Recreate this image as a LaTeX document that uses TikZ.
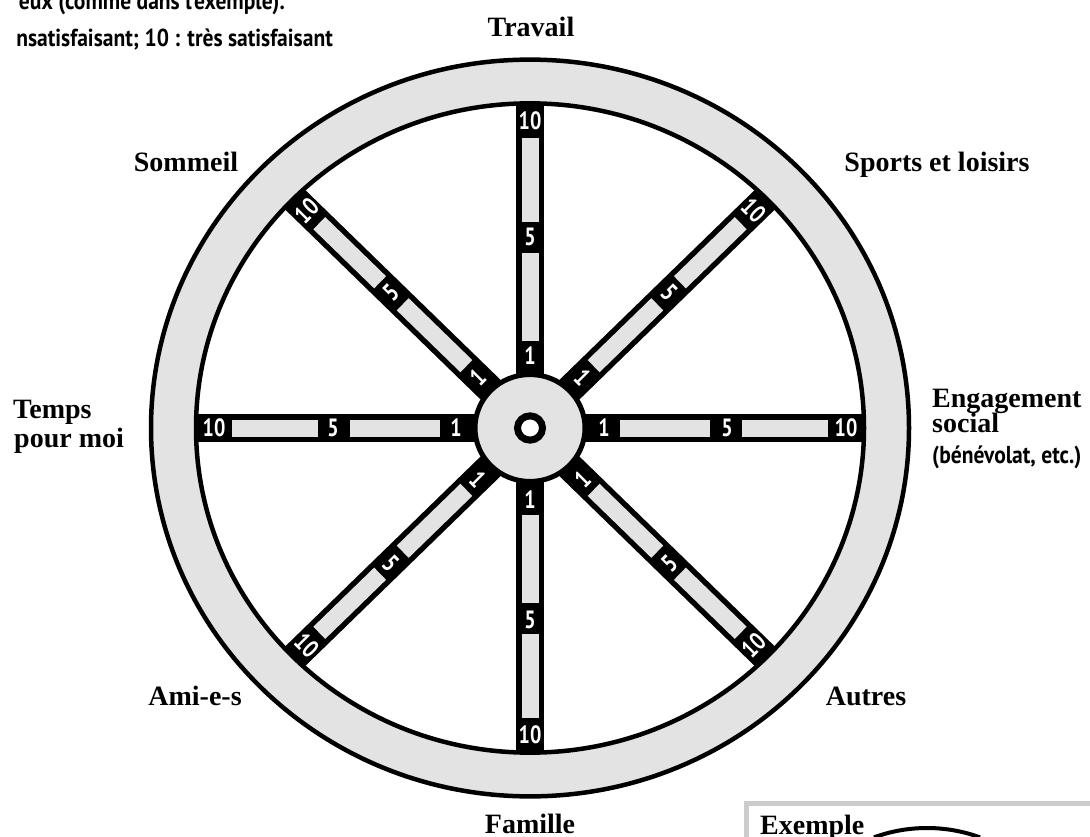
\documentclass[tikz,border=0pt]{standalone}
\usepackage{fontspec}
\usepackage{graphicx}
\setmainfont{Liberation Serif}
\newfontfamily\sansf{PT Sans}
\definecolor{rimgray}{RGB}{227,227,227}
\definecolor{boxgray}{RGB}{204,204,204}
\newcommand\nrw[1]{\scalebox{0.8}[1]{#1}}
\newcommand\snrw[1]{\scalebox{0.88}[1]{#1}}
\tikzset{
  numlbl/.style={text=white, inner sep=0pt, font=\sansf\bfseries\fontsize{25}{25}\selectfont},
  catlbl/.style={inner sep=0pt, font=\bfseries\fontsize{28}{28}\selectfont},
  smalltxt/.style={inner sep=0pt, font=\sansf\bfseries\fontsize{24.5}{24.5}\selectfont},
  rimline/.style={line width=4.5pt}
}
\begin{document}
\begin{tikzpicture}[x=1pt,y=1pt]
\useasboundingbox (0,0) rectangle (1090,-837);
\fill[white] (0,0) rectangle (1090,-837);
% intro text (cut at the page edge)
\node[smalltxt, anchor=base east] (intro1) at (285,-10) {\snrw{eux (comme dans l’exemple).}};
\node[smalltxt, anchor=base east] (intro2) at (333,-47) {\snrw{nsatisfaisant; 10 : très satisfaisant}};
% wheel
\begin{scope}[shift={(530,-428)}, yscale=0.972]
  \fill[rimgray, even odd rule] (0,0) circle (379) (0,0) circle (334);
  \draw[rimline] (0,0) circle (379);
  \foreach \a/\r in {0/0,45/-45,90/0,135/45,180/0,225/-45,270/0,315/45} {
    \draw[line width=28pt] (\a:50) -- (\a:334);
    \draw[rimgray, line width=17pt] (\a:90) -- (\a:180) (\a:212) -- (\a:298);
    \node[numlbl, rotate=\r] (one\a) at (\a:74) {\nrw{1}};
    \node[numlbl, rotate=\r] (five\a) at (\a:197) {\nrw{5}};
    \node[numlbl, rotate=\r] (ten\a) at (\a:316) {\nrw{10}};
  }
  \draw[rimline] (0,0) circle (334);
  \filldraw[fill=rimgray, line width=5pt] (0,0) circle (55);
  \filldraw[fill=white, line width=7pt] (0,0) circle (12.5);
\end{scope}
% labels
\node[catlbl, anchor=base] (travail) at (531,-37) {Travail};
\node[catlbl, anchor=base] (famille) at (530,-833) {Famille};
\node[catlbl, anchor=base] (sommeil) at (186,-172) {Sommeil};
\node[catlbl, anchor=base] (sports) at (937,-172) {Sports et loisirs};
\node[catlbl, anchor=base west] (temps1) at (13,-418) {Temps};
\node[catlbl, anchor=base west] (temps2) at (14,-447) {pour moi};
\node[catlbl, anchor=base west] (eng1) at (932,-407) {Engagement};
\node[catlbl, anchor=base west] (eng2) at (932,-432) {social};
\node[smalltxt, anchor=base west] (eng3) at (932,-463) {\snrw{(bénévolat, etc.)}};
\node[catlbl, anchor=base] (amis) at (195,-705) {Ami-e-s};
\node[catlbl, anchor=base] (autres) at (866,-705) {Autres};
% example box (cut at the page edge)
\draw[boxgray, line width=5pt] (746,-803) rectangle (1110,-860);
\node[catlbl, anchor=base west] (exemple) at (760,-834) {Exemple};
\draw[line width=4pt] (927,-983) ++(110:155) arc (110:70:155);
\end{tikzpicture}
\end{document}
